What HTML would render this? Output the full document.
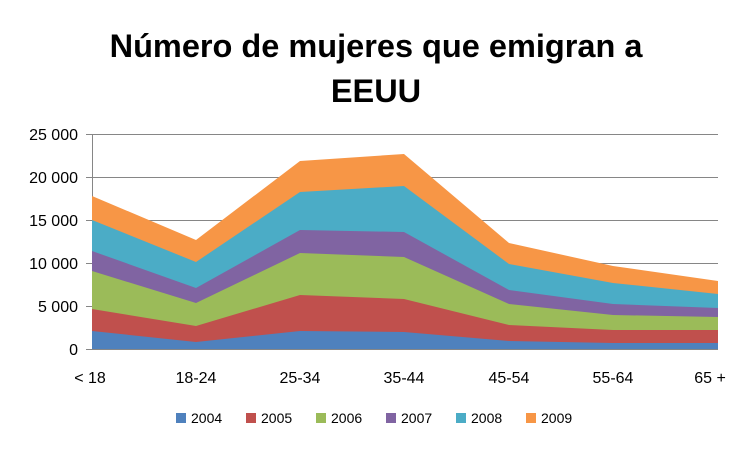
<!DOCTYPE html>
<html><head><meta charset="utf-8"><style>
body{margin:0;background:#fff;}
svg{display:block;font-family:"Liberation Sans",sans-serif;}
</style></head><body>
<svg width="752" height="451" viewBox="0 0 752 451" xmlns="http://www.w3.org/2000/svg">
<rect width="752" height="451" fill="#fff"/>
<text x="376" y="57" text-anchor="middle" font-size="32.5" font-weight="bold" fill="#000">Número de mujeres que emigran a</text>
<text x="376" y="102" text-anchor="middle" font-size="32.5" font-weight="bold" fill="#000">EEUU</text>
<g stroke="#868686" stroke-width="1">
<line x1="92" y1="134.5" x2="718" y2="134.5"/>
<line x1="92" y1="177.5" x2="718" y2="177.5"/>
<line x1="92" y1="220.5" x2="718" y2="220.5"/>
<line x1="92" y1="263.5" x2="718" y2="263.5"/>
<line x1="92" y1="306.5" x2="718" y2="306.5"/>
<line x1="92.5" y1="134" x2="92.5" y2="349"/>
<line x1="86" y1="134.5" x2="92" y2="134.5"/>
<line x1="86" y1="177.5" x2="92" y2="177.5"/>
<line x1="86" y1="220.5" x2="92" y2="220.5"/>
<line x1="86" y1="263.5" x2="92" y2="263.5"/>
<line x1="86" y1="306.5" x2="92" y2="306.5"/>
<line x1="86" y1="349.5" x2="92" y2="349.5"/>
</g>
<polygon fill="#f79646" points="92,196 196,240 300,161 404,154 509,243 613,266 718,281 718,349 92,349"/>
<polygon fill="#4bacc6" points="92,220 196,262 300,192 404,186 509,264 613,283 718,294 718,349 92,349"/>
<polygon fill="#8064a2" points="92,251 196,288 300,230 404,232 509,290 613,304 718,308 718,349 92,349"/>
<polygon fill="#9bbb59" points="92,271 196,303 300,253 404,257 509,304 613,315 718,317 718,349 92,349"/>
<polygon fill="#c0504d" points="92,309 196,326 300,295 404,299 509,325 613,330 718,330 718,349 92,349"/>
<polygon fill="#4f81bd" points="92,331 196,342 300,331 404,332 509,341 613,343 718,343 718,349 92,349"/>
<line x1="92" y1="349.5" x2="718" y2="349.5" stroke="#868686"/>
<g font-size="16" fill="#000" text-anchor="end">
<text x="78" y="140">25 000</text>
<text x="78" y="183">20 000</text>
<text x="78" y="226">15 000</text>
<text x="78" y="269">10 000</text>
<text x="78" y="312">5 000</text>
<text x="78" y="355">0</text>
</g>
<g font-size="16" fill="#000" text-anchor="middle">
<text x="90" y="383">&lt; 18</text>
<text x="196" y="383">18-24</text>
<text x="300" y="383">25-34</text>
<text x="404" y="383">35-44</text>
<text x="509" y="383">45-54</text>
<text x="613" y="383">55-64</text>
<text x="710" y="383">65 +</text>
</g>
<g font-size="14" fill="#000">
<rect x="176" y="413" width="10" height="10" fill="#4f81bd"/><text x="191" y="423">2004</text>
<rect x="246" y="413" width="10" height="10" fill="#c0504d"/><text x="261" y="423">2005</text>
<rect x="316" y="413" width="10" height="10" fill="#9bbb59"/><text x="331" y="423">2006</text>
<rect x="386" y="413" width="10" height="10" fill="#8064a2"/><text x="401" y="423">2007</text>
<rect x="456" y="413" width="10" height="10" fill="#4bacc6"/><text x="471" y="423">2008</text>
<rect x="526" y="413" width="10" height="10" fill="#f79646"/><text x="541" y="423">2009</text>
</g>
</svg>
</body></html>
